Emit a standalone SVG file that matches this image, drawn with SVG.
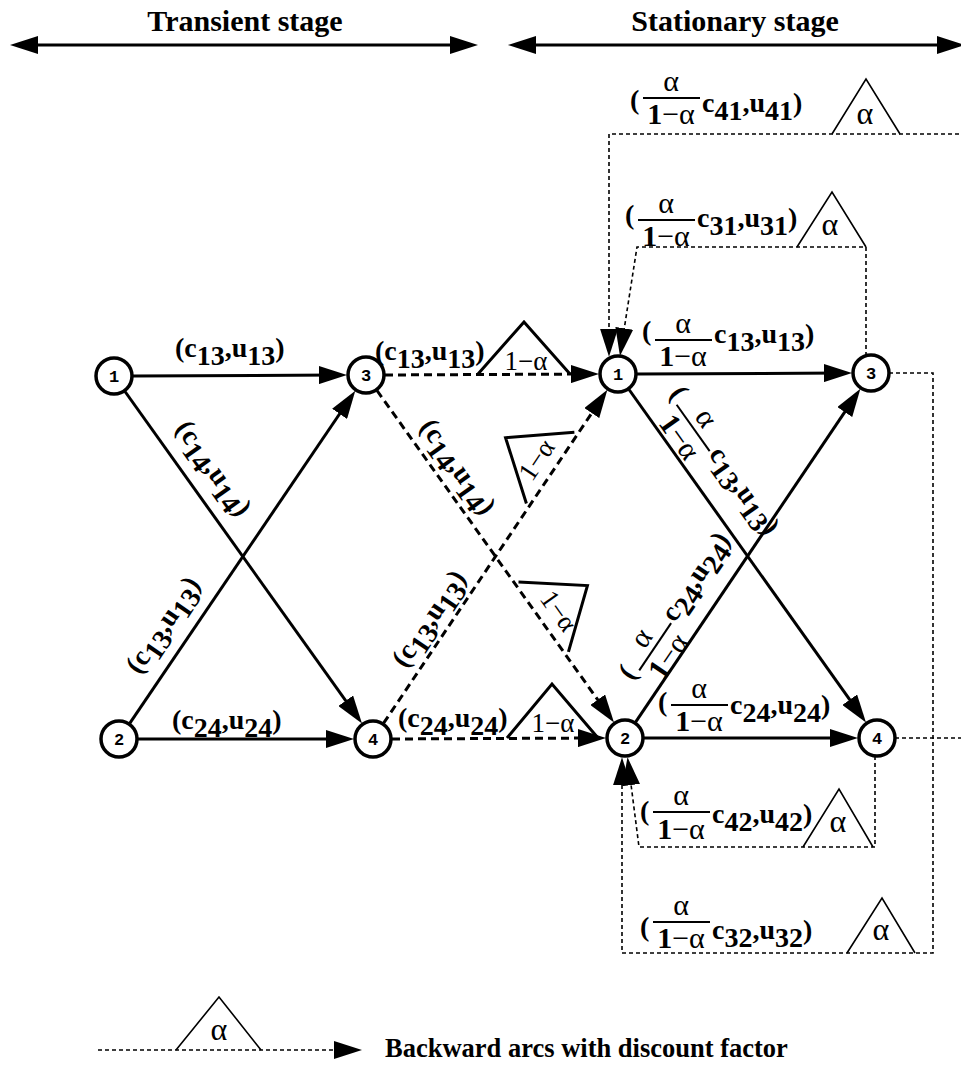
<svg xmlns="http://www.w3.org/2000/svg" width="961" height="1065" viewBox="0 0 961 1065">
<style>
.nd circle{fill:#fff;stroke:#000;stroke-width:3.5}
.nd text{font-family:"Liberation Mono",monospace;font-weight:bold;font-size:17px;text-anchor:middle}
.e{stroke:#000;stroke-width:3;fill:none}
.d{stroke-dasharray:8 5}
.b{stroke:#000;stroke-width:1.6;stroke-dasharray:4 3;fill:none}
.tri{stroke:#000;stroke-width:3;fill:none}
.tri2{stroke:#000;stroke-width:1.6;fill:none}
.fb{stroke:#000;stroke-width:2}
.lb{font-family:"Liberation Serif",serif;font-weight:bold;font-size:28px}
.lg{font-family:"Liberation Serif",serif;font-weight:bold;font-size:26.5px}
.hd{font-family:"Liberation Serif",serif;font-weight:bold;font-size:30px;text-anchor:middle}
.gr{font-family:"Liberation Serif",serif;font-size:32px;text-anchor:middle}
.fr{font-family:"Liberation Serif",serif;font-size:30px;text-anchor:middle}
.g2{font-family:"Liberation Serif",serif;font-size:27px;text-anchor:middle}
</style>
<defs>
<marker id="ah" markerUnits="userSpaceOnUse" viewBox="0 0 28 18" markerWidth="28" markerHeight="18" refX="18" refY="9" orient="auto-start-reverse"><path d="M0,0 L28,9 L0,18 z" fill="#000"/></marker>
</defs>

<g id="headings">
<text class="hd" x="245" y="31">Transient stage</text>
<text class="hd" x="735" y="31">Stationary stage</text>
</g>

<g id="connectors">
<line class="e" x1="20" y1="45" x2="468" y2="45" marker-start="url(#ah)" marker-end="url(#ah)"/>
<line class="e" x1="518" y1="45" x2="955" y2="45" marker-start="url(#ah)" marker-end="url(#ah)"/>
<!-- transient -->
<line class="e" x1="133" y1="376" x2="337" y2="375" marker-end="url(#ah)"/>
<line class="e" x1="138" y1="739" x2="344" y2="739" marker-end="url(#ah)"/>
<line class="e" x1="125" y1="391.5" x2="356.2" y2="715.4" marker-end="url(#ah)"/>
<line class="e" x1="129.7" y1="723.3" x2="349.7" y2="399" marker-end="url(#ah)"/>
<!-- middle dashed -->
<line class="e d" x1="385" y1="375" x2="589" y2="374" marker-end="url(#ah)"/>
<line class="e d" x1="392" y1="739" x2="596" y2="738" marker-end="url(#ah)"/>
<line class="e d" x1="377" y1="390.5" x2="608.2" y2="714.4" marker-end="url(#ah)"/>
<line class="e d" x1="383.6" y1="723.2" x2="601.8" y2="398.1" marker-end="url(#ah)"/>
<!-- stationary -->
<line class="e" x1="637" y1="374" x2="842" y2="373" marker-end="url(#ah)"/>
<line class="e" x1="644" y1="738" x2="848" y2="738" marker-end="url(#ah)"/>
<line class="e" x1="629" y1="389.5" x2="860.2" y2="714.4" marker-end="url(#ah)"/>
<line class="e" x1="635.6" y1="722.2" x2="854.8" y2="397.1" marker-end="url(#ah)"/>
<!-- backward arcs -->
<path class="b" d="M895,738 L975,738 L975,134 L609,134 L609,346.7" marker-end="url(#ah)"/>
<path class="b" d="M866,356 L866,247 L637,247 L621.5,346.1" marker-end="url(#ah)"/>
<path class="b" d="M889,373 L933,373 L933,953 L622,953 L622,767.3" marker-end="url(#ah)"/>
<path class="b" d="M875,756 L875,847 L639,847 L628.8,767.2" marker-end="url(#ah)"/>
<!-- legend -->
<path class="b" d="M98,1050 L352,1050" marker-end="url(#ah)"/>
</g>

<g id="factors">
<polyline class="tri" points="478,374 524,322 570,374"/>
<text class="g2" x="526" y="370">1−α</text>
<polyline class="tri" points="507,738 552,684 598,738"/>
<text class="g2" x="553" y="732">1−α</text>
<g transform="translate(366,375) rotate(54.5)">
<polyline class="tri" points="257,-4 300,-58 343,-4"/>
<text class="g2" x="304" y="-11">1−α</text>
</g>
<g transform="translate(373,739) rotate(-56.1)">
<polyline class="tri" points="281,-4 324,-58 367,-4"/>
<text class="g2" x="323" y="-11">1−α</text>
</g>
<polyline class="tri2" points="832,134 866,79 900,134"/>
<text class="gr" x="865" y="124">α</text>
<polyline class="tri2" points="797,247 832,192 866,247"/>
<text class="gr" x="830" y="235">α</text>
<polyline class="tri2" points="803,847 839,789 873,847"/>
<text class="gr" x="838" y="832">α</text>
<polyline class="tri2" points="847,953 882,898 915,953"/>
<text class="gr" x="881" y="940">α</text>
<polyline class="tri2" points="176,1050 219,997 261,1050"/>
<text class="gr" x="219" y="1040">α</text>
</g>

<g id="labels">
<text class="lb" x="175" y="357">(c<tspan dy="8">13</tspan><tspan dy="-8">,u</tspan><tspan dy="8">13</tspan><tspan dy="-8">)</tspan></text>
<text class="lb" x="172" y="729">(c<tspan dy="8">24</tspan><tspan dy="-8">,u</tspan><tspan dy="8">24</tspan><tspan dy="-8">)</tspan></text>
<text class="lb" x="375" y="360">(c<tspan dy="8">13</tspan><tspan dy="-8">,u</tspan><tspan dy="8">13</tspan><tspan dy="-8">)</tspan></text>
<text class="lb" x="398" y="727">(c<tspan dy="8">24</tspan><tspan dy="-8">,u</tspan><tspan dy="8">24</tspan><tspan dy="-8">)</tspan></text>
<g transform="translate(114,376) rotate(54.5)">
<text class="lb" x="133" y="-19" text-anchor="middle">(c<tspan dy="8">14</tspan><tspan dy="-8">,u</tspan><tspan dy="8">14</tspan><tspan dy="-8">)</tspan></text>
</g>
<g transform="translate(119,739) rotate(-55.8)">
<text class="lb" x="119" y="-19" text-anchor="middle">(c<tspan dy="8">13</tspan><tspan dy="-8">,u</tspan><tspan dy="8">13</tspan><tspan dy="-8">)</tspan></text>
</g>
<g transform="translate(366,375) rotate(54.5)">
<text class="lb" x="128" y="-13" text-anchor="middle">(c<tspan dy="8">14</tspan><tspan dy="-8">,u</tspan><tspan dy="8">14</tspan><tspan dy="-8">)</tspan></text>
</g>
<g transform="translate(373,739) rotate(-56.1)">
<text class="lb" x="131" y="-12" text-anchor="middle">(c<tspan dy="8">13</tspan><tspan dy="-8">,u</tspan><tspan dy="8">13</tspan><tspan dy="-8">)</tspan></text>
</g>
<!-- fraction labels -->
<g id="l-s13">
<text class="lb" x="642" y="340">(</text>
<line class="fb" x1="655" y1="340" x2="712" y2="340"/>
<text class="fr" x="683" y="333">α</text>
<text class="fr" x="683" y="366"><tspan font-weight="bold">1</tspan>−α</text>
<text class="lb" x="714" y="343">c<tspan dy="8">13</tspan><tspan dy="-8">,u</tspan><tspan dy="8">13</tspan><tspan dy="-8">)</tspan></text>
</g>
<g id="l-s24">
<text class="lb" x="658" y="711">(</text>
<line class="fb" x1="671" y1="705" x2="728" y2="705"/>
<text class="fr" x="699" y="698">α</text>
<text class="fr" x="699" y="731"><tspan font-weight="bold">1</tspan>−α</text>
<text class="lb" x="730" y="714">c<tspan dy="8">24</tspan><tspan dy="-8">,u</tspan><tspan dy="8">24</tspan><tspan dy="-8">)</tspan></text>
</g>
<g id="l-s14" transform="translate(618,374) rotate(54.6)">
<text class="lb" x="46" y="-30">(</text>
<line class="fb" x1="59" y1="-30" x2="116" y2="-30"/>
<text class="fr" x="87" y="-37">α</text>
<text class="fr" x="87" y="-4"><tspan font-weight="bold">1</tspan>−α</text>
<text class="lb" x="118" y="-27">c<tspan dy="8">13</tspan><tspan dy="-8">,u</tspan><tspan dy="8">13</tspan><tspan dy="-8">)</tspan></text>
</g>
<g id="l-s23" transform="translate(625,738) rotate(-56)">
<text class="lb" x="51" y="-26">(</text>
<line class="fb" x1="64" y1="-26" x2="121" y2="-26"/>
<text class="fr" x="92" y="-33">α</text>
<text class="fr" x="92" y="0"><tspan font-weight="bold">1</tspan>−α</text>
<text class="lb" x="123" y="-23">c<tspan dy="8">24</tspan><tspan dy="-8">,u</tspan><tspan dy="8">24</tspan><tspan dy="-8">)</tspan></text>
</g>
<g id="l-41">
<text class="lb" x="630" y="109">(</text>
<line class="fb" x1="643" y1="98" x2="700" y2="98"/>
<text class="fr" x="671" y="91">α</text>
<text class="fr" x="671" y="124"><tspan font-weight="bold">1</tspan>−α</text>
<text class="lb" x="702" y="112">c<tspan dy="8">41</tspan><tspan dy="-8">,u</tspan><tspan dy="8">41</tspan><tspan dy="-8">)</tspan></text>
</g>
<g id="l-31">
<text class="lb" x="625" y="224">(</text>
<line class="fb" x1="638" y1="220" x2="695" y2="220"/>
<text class="fr" x="666" y="213">α</text>
<text class="fr" x="666" y="246"><tspan font-weight="bold">1</tspan>−α</text>
<text class="lb" x="697" y="227">c<tspan dy="8">31</tspan><tspan dy="-8">,u</tspan><tspan dy="8">31</tspan><tspan dy="-8">)</tspan></text>
</g>
<g id="l-42">
<text class="lb" x="640" y="820">(</text>
<line class="fb" x1="653" y1="812" x2="710" y2="812"/>
<text class="fr" x="681" y="805">α</text>
<text class="fr" x="681" y="839"><tspan font-weight="bold">1</tspan>−α</text>
<text class="lb" x="712" y="823">c<tspan dy="8">42</tspan><tspan dy="-8">,u</tspan><tspan dy="8">42</tspan><tspan dy="-8">)</tspan></text>
</g>
<g id="l-32">
<text class="lb" x="640" y="936">(</text>
<line class="fb" x1="653" y1="922" x2="710" y2="922"/>
<text class="fr" x="681" y="915">α</text>
<text class="fr" x="681" y="948"><tspan font-weight="bold">1</tspan>−α</text>
<text class="lb" x="712" y="939">c<tspan dy="8">32</tspan><tspan dy="-8">,u</tspan><tspan dy="8">32</tspan><tspan dy="-8">)</tspan></text>
</g>
<text class="lg" x="385" y="1057">Backward arcs with discount factor</text>
</g>

<g id="n-t1" class="nd"><circle cx="114" cy="376" r="18"/><text x="114" y="382">1</text></g>
<g id="n-t3" class="nd"><circle cx="366" cy="375" r="18"/><text x="366" y="381">3</text></g>
<g id="n-t2" class="nd"><circle cx="119" cy="739" r="18"/><text x="119" y="745">2</text></g>
<g id="n-t4" class="nd"><circle cx="373" cy="739" r="18"/><text x="373" y="745">4</text></g>
<g id="n-s1" class="nd"><circle cx="618" cy="374" r="18"/><text x="618" y="380">1</text></g>
<g id="n-s3" class="nd"><circle cx="871" cy="373" r="18"/><text x="871" y="379">3</text></g>
<g id="n-s2" class="nd"><circle cx="625" cy="738" r="18"/><text x="625" y="744">2</text></g>
<g id="n-s4" class="nd"><circle cx="877" cy="738" r="18"/><text x="877" y="744">4</text></g>
</svg>
